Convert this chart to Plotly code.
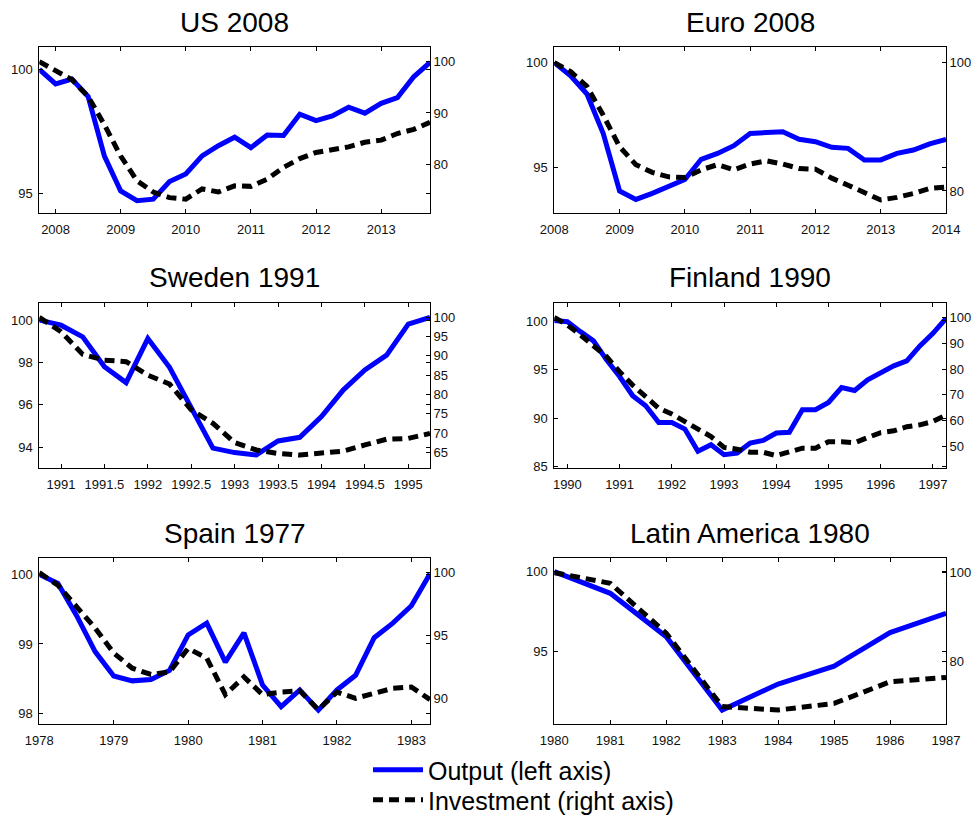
import numpy as np
import plotly.graph_objects as go

# ---- Panel titles -------------------------------------------------------
titles = ["US 2008", "Euro 2008", "Sweden 1991", "Finland 1990",
          "Spain 1977", "Latin America 1980"]

# ---- Time grids (quarterly except Latin America, annual) ------------------
us_t = np.arange(2007.75, 2013.75 + 0.01, 0.25)
euro_t = np.arange(2008.0, 2014.0 + 0.01, 0.25)
sweden_t = np.arange(1990.75, 1995.25 + 0.01, 0.25)
finland_t = np.arange(1989.75, 1997.25 + 0.01, 0.25)
spain_t = np.arange(1978.0, 1983.25 + 0.01, 0.25)
latam_t = [1980, 1981, 1982, 1983, 1984, 1985, 1986, 1987]

# ---- Output index (left axis) -------------------------------------------
us_output = [100.0, 99.41, 99.61, 98.9, 96.5, 95.09, 94.70, 94.76, 95.47,
             95.78, 96.51, 96.92, 97.26, 96.84, 97.35, 97.33, 98.19, 97.93,
             98.12, 98.47, 98.23, 98.63, 98.86, 99.70, 100.28]
euro_output = [100.0, 99.37, 98.51, 96.63, 93.89, 93.49, 93.78, 94.1, 94.44,
               95.40, 95.68, 96.05, 96.63, 96.67, 96.71, 96.35, 96.24, 95.97,
               95.92, 95.37, 95.37, 95.68, 95.84, 96.13, 96.35]
sweden_output = [100.0, 99.76, 99.21, 97.80, 97.05, 99.13, 97.77, 95.92,
                 93.96, 93.75, 93.64, 94.30, 94.47, 95.45, 96.70, 97.65,
                 98.35, 99.81, 100.13]
finland_output = [100.05, 99.93, 98.9, 97.95, 96.0, 94.28, 92.3, 91.27, 89.55,
                  89.55, 88.87, 86.58, 87.26, 86.23, 86.4, 87.43, 87.7, 88.46,
                  88.53, 90.86, 90.86, 91.61, 93.15, 92.84, 93.94, 94.69,
                  95.38, 95.89, 97.43, 98.73, 100.27]
spain_output = [100.0, 99.87, 99.41, 98.89, 98.54, 98.47, 98.49, 98.62, 99.13,
                99.30, 98.74, 99.16, 98.41, 98.10, 98.34, 98.05, 98.34, 98.55,
                99.09, 99.30, 99.55, 100.01]
latam_output = [100.0, 98.65, 95.94, 91.35, 92.98, 94.10, 96.19, 97.40]

# ---- Investment index (right axis) --------------------------------------
us_invest = [100.0, 98.3, 96.5, 93.2, 87.7, 81.6, 76.8, 74.6, 73.5, 73.2,
             75.2, 74.6, 75.8, 75.7, 77.1, 79.4, 81.1, 82.3, 82.8, 83.4,
             84.3, 84.7, 86.0, 86.8, 88.2]
euro_invest = [100.0, 98.6, 96.3, 91.8, 86.9, 84.1, 82.9, 82.2, 82.1, 83.3,
               84.1, 83.3, 84.2, 84.7, 84.2, 83.5, 83.4, 82.0, 80.9, 79.7,
               78.6, 79.0, 79.6, 80.4, 80.6]
sweden_invest = [100.0, 96.3, 90.4, 88.9, 88.5, 85.0, 82.7, 76.0, 72.5, 67.5,
                 65.6, 64.7, 64.3, 64.7, 65.3, 66.9, 68.4, 68.6, 69.9]
finland_invest = [100.0, 97.0, 93.2, 89.3, 84.8, 79.0, 73.8, 69.3, 64.8, 62.6,
                  59.7, 56.4, 53.9, 49.7, 49.0, 47.8, 47.8, 46.5, 47.8, 49.4,
                  49.4, 51.9, 51.9, 51.5, 53.5, 55.4, 56.1, 57.7, 58.4, 59.7,
                  62.2]
spain_invest = [100.0, 99.0, 97.3, 95.6, 93.6, 92.4, 91.9, 92.1, 93.97, 93.2,
                90.3, 91.7, 90.3, 90.5, 90.6, 89.1, 90.5, 90.0, 90.4, 90.8,
                90.9, 89.9]
latam_invest = [100.0, 97.6, 86.3, 69.7, 68.9, 70.4, 75.3, 76.3]

# ---- Tick labels ----------------------------------------------------------
us_xticks = [2008, 2009, 2010, 2011, 2012, 2013]
euro_xticks = [2008, 2009, 2010, 2011, 2012, 2013, 2014]
sweden_xticks = [1991, 1991.5, 1992, 1992.5, 1993, 1993.5, 1994, 1994.5, 1995]
finland_xticks = [1990, 1991, 1992, 1993, 1994, 1995, 1996, 1997]
spain_xticks = [1978, 1979, 1980, 1981, 1982, 1983]
latam_xticks = [1980, 1981, 1982, 1983, 1984, 1985, 1986, 1987]

us_lticks = [95, 100]
euro_lticks = [95, 100]
sweden_lticks = [94, 96, 98, 100]
finland_lticks = [85, 90, 95, 100]
spain_lticks = [98, 99, 100]
latam_lticks = [95, 100]

us_rticks = [80, 90, 100]
euro_rticks = [80, 100]
sweden_rticks = [65, 70, 75, 80, 85, 90, 95, 100]
finland_rticks = [50, 60, 70, 80, 90, 100]
spain_rticks = [90, 95, 100]
latam_rticks = [80, 100]

# ---- Panel assembly -------------------------------------------------------
panels = [
    dict(t=us_t, out=us_output, inv=us_invest, xt=us_xticks, lt=us_lticks,
         rt=us_rticks, xr=[2007.75, 2013.75], lr=[94.19, 100.89], rr=[70.45, 102.8]),
    dict(t=euro_t, out=euro_output, inv=euro_invest, xt=euro_xticks, lt=euro_lticks,
         rt=euro_rticks, xr=[2008, 2014], lr=[92.83, 100.73], rr=[76.52, 102.39]),
    dict(t=sweden_t, out=sweden_output, inv=sweden_invest, xt=sweden_xticks,
         lt=sweden_lticks, rt=sweden_rticks, xr=[1990.75, 1995.25],
         lr=[93.01, 100.82], rr=[60.85, 103.8]),
    dict(t=finland_t, out=finland_output, inv=finland_invest, xt=finland_xticks,
         lt=finland_lticks, rt=finland_rticks, xr=[1989.75, 1997.25],
         lr=[84.83, 101.88], rr=[41.6, 105.67]),
    dict(t=spain_t, out=spain_output, inv=spain_invest, xt=spain_xticks,
         lt=spain_lticks, rt=spain_rticks, xr=[1978, 1983.25],
         lr=[97.85, 100.24], rr=[87.96, 101.19]),
    dict(t=latam_t, out=latam_output, inv=latam_invest, xt=latam_xticks,
         lt=latam_lticks, rt=latam_rticks, xr=[1980, 1987],
         lr=[90.48, 100.875], rr=[65.74, 103.4]),
]

W, H = 976, 817
col_px = [(39.3, 430.0), (554.3, 946.0)]
row_px = [(47.3, 213.3), (302.7, 468.3), (557.7, 724.0)]
title_px = [22.5, 277.0, 533.0]

FONT = "Liberation Sans, Arial, sans-serif"
TICKFONT = dict(family=FONT, size=13, color="#111111")

fig = go.Figure()
layout = dict(
    width=W, height=H,
    margin=dict(l=0, r=0, t=0, b=0, autoexpand=False),
    paper_bgcolor="white", plot_bgcolor="white",
    font=dict(family=FONT, color="black"),
    annotations=[],
)

def fmt(v):
    return str(int(v)) if float(v).is_integer() else str(v)

for i, p in enumerate(panels):
    r, c = divmod(i, 2)
    x0, x1 = col_px[c]
    ytop, ybot = row_px[r]
    xd = [x0 / W, x1 / W]
    yd = [1 - ybot / H, 1 - ytop / H]
    xn = f"x{i + 1}"
    yl = f"y{2 * i + 1}"
    yr = f"y{2 * i + 2}"

    layout[f"xaxis{i + 1}"] = dict(
        domain=xd, range=p["xr"], anchor=yl,
        tickvals=p["xt"], ticktext=[fmt(v) for v in p["xt"]],
        ticks="inside", ticklen=4, tickcolor="black", ticklabelstandoff=4,
        showline=True, linecolor="black", linewidth=1, mirror="ticks",
        showgrid=False, zeroline=False, tickfont=TICKFONT,
    )
    layout[f"yaxis{2 * i + 1}"] = dict(
        domain=yd, range=p["lr"], anchor=xn,
        tickvals=p["lt"], ticktext=[fmt(v) for v in p["lt"]],
        ticks="inside", ticklen=4, tickcolor="black", ticklabelstandoff=3,
        showline=True, linecolor="black", linewidth=1, mirror="ticks",
        showgrid=False, zeroline=False, tickfont=TICKFONT,
    )
    layout[f"yaxis{2 * i + 2}"] = dict(
        range=p["rr"], anchor=xn, overlaying=yl, side="right",
        tickvals=p["rt"], ticktext=[fmt(v) for v in p["rt"]],
        ticks="inside", ticklen=4, tickcolor="black",
        showline=True, linecolor="black", linewidth=1,
        showgrid=False, zeroline=False, tickfont=TICKFONT,
    )

    fig.add_trace(go.Scatter(
        x=p["t"], y=p["out"], xaxis=xn, yaxis=yl, mode="lines",
        line=dict(color="#0000ff", width=5),
        name="Output (left axis)", showlegend=(i == 0), legend="legend",
    ))
    fig.add_trace(go.Scatter(
        x=p["t"], y=p["inv"], xaxis=xn, yaxis=yr, mode="lines",
        line=dict(color="black", width=5, dash="10px,6px"),
        name="Investment (right axis)", showlegend=(i == 0), legend="legend2",
    ))

    layout["annotations"].append(dict(
        text=titles[i], xref="paper", yref="paper",
        x=(xd[0] + xd[1]) / 2, y=1 - title_px[r] / H,
        xanchor="center", yanchor="middle", showarrow=False,
        font=dict(family=FONT, size=28, color="black"),
    ))

# Two one-item legends stacked under the grid
LEGFONT = dict(family=FONT, size=25, color="black")
layout["legend"] = dict(
    x=368 / W, y=1 - 770 / H, xanchor="left", yanchor="middle",
    font=LEGFONT, bgcolor="rgba(0,0,0,0)", itemwidth=50,
)
layout["legend2"] = dict(
    x=368 / W, y=1 - 800 / H, xanchor="left", yanchor="middle",
    font=LEGFONT, bgcolor="rgba(0,0,0,0)", itemwidth=50,
)

fig.update_layout(**layout)
fig.write_html("out.html")
